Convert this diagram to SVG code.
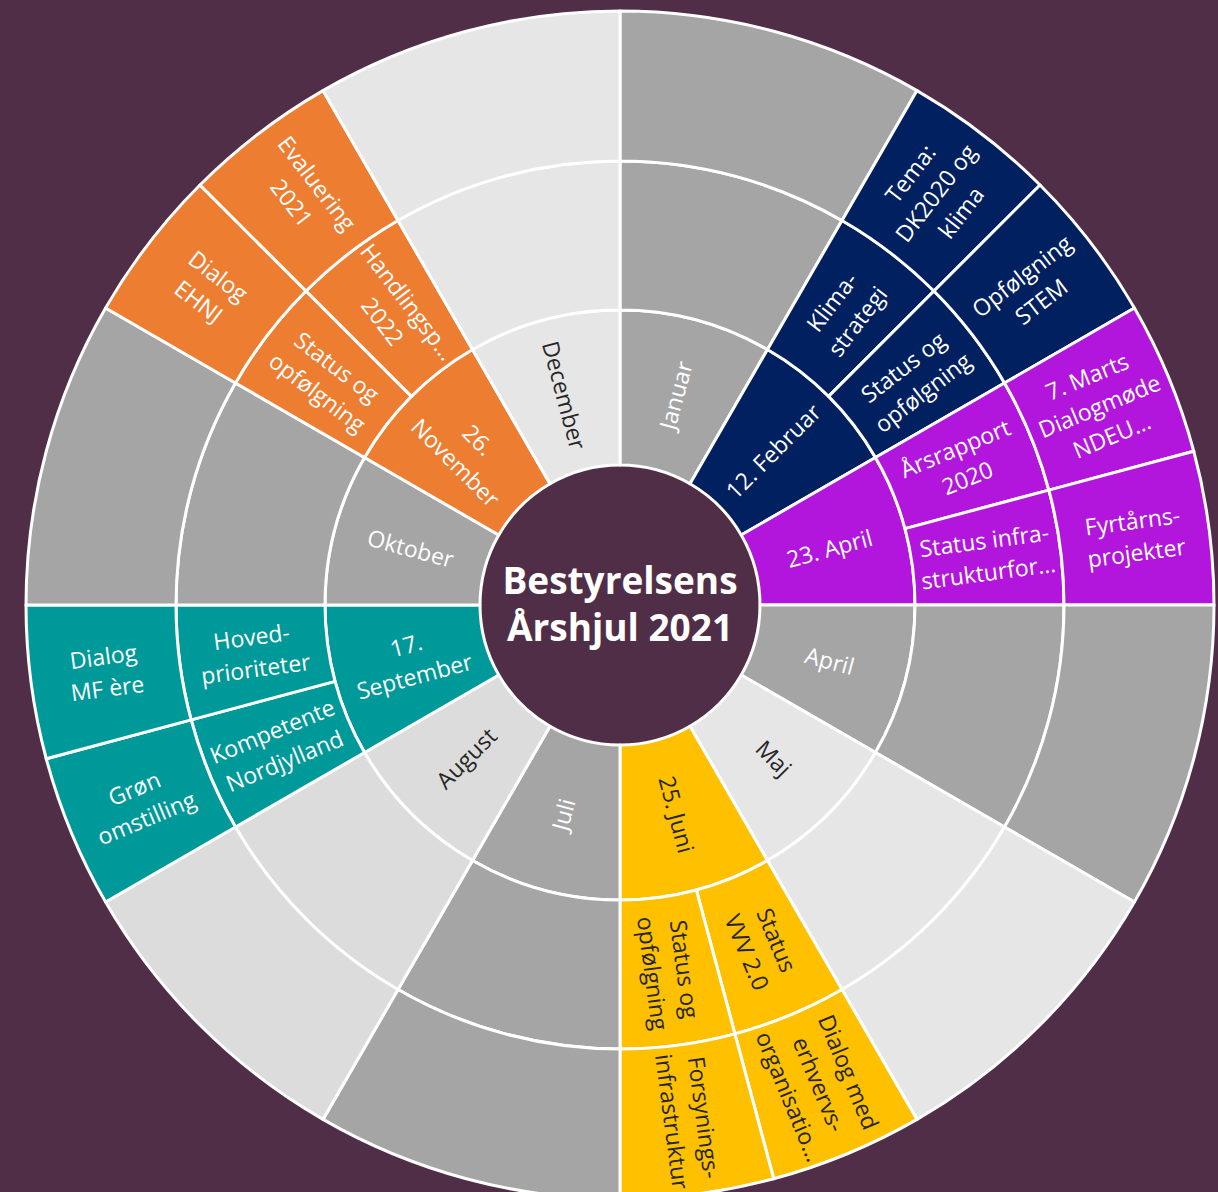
<svg xmlns="http://www.w3.org/2000/svg" xmlns:xlink="http://www.w3.org/1999/xlink" width="1218" height="1192" viewBox="0 0 1218 1192">
<style>
.seg{stroke:#FFFFFF;stroke-width:3;stroke-linejoin:round}
.gray{fill:#A5A5A5}
.light{fill:#E7E6E6}
.light2{fill:#DCDCDC}
.navy{fill:#002060}
.purple{fill:#B216DC}
.orange{fill:#ED7D31}
.teal{fill:#009999}
.yellow{fill:#FFC000}
text{font-family:"Open Sans","Noto Sans","Liberation Sans",sans-serif;font-size:23px;text-anchor:middle}
.w{fill:#FFFFFF}
.d{fill:#262626}
.title{font-weight:bold;font-size:37px;fill:#FFFFFF}
</style>
<defs>
<path id="r1w" d="M0,-140 L0,-295 A295,295 0 0 1 147.5,-255.478 L70,-121.244 A140,140 0 0 0 0,-140 Z"/>
<path id="r2w" d="M0,-295 L0,-444 A444,444 0 0 1 222,-384.515 L147.5,-255.478 A295,295 0 0 0 0,-295 Z"/>
<path id="r3w" d="M0,-444 L0,-594 A594,594 0 0 1 297,-514.419 L222,-384.515 A444,444 0 0 0 0,-444 Z"/>
<path id="r2h" d="M0,-295 L0,-444 A444,444 0 0 1 114.916,-428.871 L76.352,-284.948 A295,295 0 0 0 0,-295 Z"/>
<path id="r3h" d="M0,-444 L0,-594 A594,594 0 0 1 153.738,-573.760 L114.916,-428.871 A444,444 0 0 0 0,-444 Z"/>
</defs>
<rect x="0" y="0" width="1218" height="1192" fill="#512E47"/>
<circle id="center" cx="620" cy="605" r="140" fill="#512E47"/>

<g id="januar">
<use xlink:href="#r1w" class="seg gray" transform="translate(620 605) rotate(0)"/>
<use xlink:href="#r2w" class="seg gray" transform="translate(620 605) rotate(0)"/>
<use xlink:href="#r3w" class="seg gray" transform="translate(620 605) rotate(0)"/>
<text class="w" transform="rotate(15 620 605) translate(620 388) rotate(-90)"><tspan x="0" y="8">Januar</tspan></text>
</g>

<g id="februar">
<use xlink:href="#r1w" class="seg navy" transform="translate(620 605) rotate(30)"/>
<use xlink:href="#r2h" class="seg navy" transform="translate(620 605) rotate(30)"/>
<use xlink:href="#r2h" class="seg navy" transform="translate(620 605) rotate(45)"/>
<use xlink:href="#r3h" class="seg navy" transform="translate(620 605) rotate(30)"/>
<use xlink:href="#r3h" class="seg navy" transform="translate(620 605) rotate(45)"/>
<text class="w" transform="rotate(45 620 605) translate(620 388) rotate(-90)"><tspan x="0" y="8">12. Februar</tspan></text>
<text class="w" transform="rotate(37.5 620 605) translate(620 235.5) rotate(-90)"><tspan x="0" y="-8">Klima-</tspan><tspan x="0" y="24">strategi</tspan></text>
<text class="w" transform="rotate(52.5 620 605) translate(620 235.5) rotate(-90)"><tspan x="0" y="-8">Status og</tspan><tspan x="0" y="24">opfølgning</tspan></text>
<text class="w" transform="rotate(37.5 620 605) translate(620 86) rotate(-90)"><tspan x="0" y="-24">Tema:</tspan><tspan x="0" y="8">DK2020 og</tspan><tspan x="0" y="40">klima</tspan></text>
<text class="w" transform="rotate(52.5 620 605) translate(620 86) rotate(-90)"><tspan x="0" y="-8">Opfølgning</tspan><tspan x="0" y="24">STEM</tspan></text>
</g>

<g id="april23">
<use xlink:href="#r1w" class="seg purple" transform="translate(620 605) rotate(60)"/>
<use xlink:href="#r2h" class="seg purple" transform="translate(620 605) rotate(60)"/>
<use xlink:href="#r2h" class="seg purple" transform="translate(620 605) rotate(75)"/>
<use xlink:href="#r3h" class="seg purple" transform="translate(620 605) rotate(60)"/>
<use xlink:href="#r3h" class="seg purple" transform="translate(620 605) rotate(75)"/>
<text class="w" transform="rotate(75 620 605) translate(620 388) rotate(-90)"><tspan x="0" y="8">23. April</tspan></text>
<text class="w" transform="rotate(67.5 620 605) translate(620 235.5) rotate(-90)"><tspan x="0" y="-8">Årsrapport</tspan><tspan x="0" y="24">2020</tspan></text>
<text class="w" transform="rotate(82.5 620 605) translate(620 235.5) rotate(-90)"><tspan x="0" y="-8">Status infra-</tspan><tspan x="0" y="24">strukturfor…</tspan></text>
<text class="w" transform="rotate(67.5 620 605) translate(620 86) rotate(-90)"><tspan x="0" y="-24">7. Marts</tspan><tspan x="0" y="8">Dialogmøde</tspan><tspan x="0" y="40">NDEU…</tspan></text>
<text class="w" transform="rotate(82.5 620 605) translate(620 86) rotate(-90)"><tspan x="0" y="-8">Fyrtårns-</tspan><tspan x="0" y="24">projekter</tspan></text>
</g>

<g id="april">
<use xlink:href="#r1w" class="seg gray" transform="translate(620 605) rotate(90)"/>
<use xlink:href="#r2w" class="seg gray" transform="translate(620 605) rotate(90)"/>
<use xlink:href="#r3w" class="seg gray" transform="translate(620 605) rotate(90)"/>
<text class="w" transform="rotate(105 620 605) translate(620 388) rotate(-90)"><tspan x="0" y="8">April</tspan></text>
</g>

<g id="maj">
<use xlink:href="#r1w" class="seg light" transform="translate(620 605) rotate(120)"/>
<use xlink:href="#r2w" class="seg light" transform="translate(620 605) rotate(120)"/>
<use xlink:href="#r3w" class="seg light" transform="translate(620 605) rotate(120)"/>
<text class="d" transform="rotate(135 620 605) translate(620 388) rotate(-90)"><tspan x="0" y="8">Maj</tspan></text>
</g>

<g id="juni">
<use xlink:href="#r1w" class="seg yellow" transform="translate(620 605) rotate(150)"/>
<use xlink:href="#r2h" class="seg yellow" transform="translate(620 605) rotate(150)"/>
<use xlink:href="#r2h" class="seg yellow" transform="translate(620 605) rotate(165)"/>
<use xlink:href="#r3h" class="seg yellow" transform="translate(620 605) rotate(150)"/>
<use xlink:href="#r3h" class="seg yellow" transform="translate(620 605) rotate(165)"/>
<text class="d" transform="rotate(165 620 605) translate(620 388) rotate(-90)"><tspan x="0" y="8">25. Juni</tspan></text>
<text class="d" transform="rotate(157.5 620 605) translate(620 235.5) rotate(-90)"><tspan x="0" y="-8">Status</tspan><tspan x="0" y="24">VVV 2.0</tspan></text>
<text class="d" transform="rotate(172.5 620 605) translate(620 235.5) rotate(-90)"><tspan x="0" y="-8">Status og</tspan><tspan x="0" y="24">opfølgning</tspan></text>
<text class="d" transform="rotate(157.5 620 605) translate(620 86) rotate(-90)"><tspan x="0" y="-24">Dialog med</tspan><tspan x="0" y="8">erhvervs-</tspan><tspan x="0" y="40">organisatio…</tspan></text>
<text class="d" transform="rotate(172.5 620 605) translate(620 86) rotate(-90)"><tspan x="0" y="-8">Forsynings-</tspan><tspan x="0" y="24">infrastruktur</tspan></text>
</g>

<g id="juli">
<use xlink:href="#r1w" class="seg gray" transform="translate(620 605) rotate(180)"/>
<use xlink:href="#r2w" class="seg gray" transform="translate(620 605) rotate(180)"/>
<use xlink:href="#r3w" class="seg gray" transform="translate(620 605) rotate(180)"/>
<text class="w" transform="rotate(195 620 605) translate(620 388) rotate(90)"><tspan x="0" y="8">Juli</tspan></text>
</g>

<g id="august">
<use xlink:href="#r1w" class="seg light2" transform="translate(620 605) rotate(210)"/>
<use xlink:href="#r2w" class="seg light2" transform="translate(620 605) rotate(210)"/>
<use xlink:href="#r3w" class="seg light2" transform="translate(620 605) rotate(210)"/>
<text class="d" transform="rotate(225 620 605) translate(620 388) rotate(90)"><tspan x="0" y="8">August</tspan></text>
</g>

<g id="september">
<use xlink:href="#r1w" class="seg teal" transform="translate(620 605) rotate(240)"/>
<use xlink:href="#r2h" class="seg teal" transform="translate(620 605) rotate(240)"/>
<use xlink:href="#r2h" class="seg teal" transform="translate(620 605) rotate(255)"/>
<use xlink:href="#r3h" class="seg teal" transform="translate(620 605) rotate(240)"/>
<use xlink:href="#r3h" class="seg teal" transform="translate(620 605) rotate(255)"/>
<text class="w" transform="rotate(255 620 605) translate(620 388) rotate(90)"><tspan x="0" y="-8">17.</tspan><tspan x="0" y="24">September</tspan></text>
<text class="w" transform="rotate(247.5 620 605) translate(620 235.5) rotate(90)"><tspan x="0" y="-8">Kompetente</tspan><tspan x="0" y="24">Nordjylland</tspan></text>
<text class="w" transform="rotate(262.5 620 605) translate(620 235.5) rotate(90)"><tspan x="0" y="-8">Hoved-</tspan><tspan x="0" y="24">prioriteter</tspan></text>
<text class="w" transform="rotate(247.5 620 605) translate(620 86) rotate(90)"><tspan x="0" y="-8">Grøn</tspan><tspan x="0" y="24">omstilling</tspan></text>
<text class="w" transform="rotate(262.5 620 605) translate(620 86) rotate(90)"><tspan x="0" y="-8">Dialog</tspan><tspan x="0" y="24">MF ère</tspan></text>
</g>

<g id="oktober">
<use xlink:href="#r1w" class="seg gray" transform="translate(620 605) rotate(270)"/>
<use xlink:href="#r2w" class="seg gray" transform="translate(620 605) rotate(270)"/>
<use xlink:href="#r3w" class="seg gray" transform="translate(620 605) rotate(270)"/>
<text class="w" transform="rotate(285 620 605) translate(620 388) rotate(90)"><tspan x="0" y="8">Oktober</tspan></text>
</g>

<g id="november">
<use xlink:href="#r1w" class="seg orange" transform="translate(620 605) rotate(300)"/>
<use xlink:href="#r2h" class="seg orange" transform="translate(620 605) rotate(300)"/>
<use xlink:href="#r2h" class="seg orange" transform="translate(620 605) rotate(315)"/>
<use xlink:href="#r3h" class="seg orange" transform="translate(620 605) rotate(300)"/>
<use xlink:href="#r3h" class="seg orange" transform="translate(620 605) rotate(315)"/>
<text class="w" transform="rotate(315 620 605) translate(620 388) rotate(90)"><tspan x="0" y="-8">26.</tspan><tspan x="0" y="24">November</tspan></text>
<text class="w" transform="rotate(307.5 620 605) translate(620 235.5) rotate(90)"><tspan x="0" y="-8">Status og</tspan><tspan x="0" y="24">opfølgning</tspan></text>
<text class="w" transform="rotate(322.5 620 605) translate(620 235.5) rotate(90)"><tspan x="0" y="-8">Handlingsp…</tspan><tspan x="0" y="24">2022</tspan></text>
<text class="w" transform="rotate(307.5 620 605) translate(620 86) rotate(90)"><tspan x="0" y="-8">Dialog</tspan><tspan x="0" y="24">EHNJ</tspan></text>
<text class="w" transform="rotate(322.5 620 605) translate(620 86) rotate(90)"><tspan x="0" y="-8">Evaluering</tspan><tspan x="0" y="24">2021</tspan></text>
</g>

<g id="december">
<use xlink:href="#r1w" class="seg light" transform="translate(620 605) rotate(330)"/>
<use xlink:href="#r2w" class="seg light" transform="translate(620 605) rotate(330)"/>
<use xlink:href="#r3w" class="seg light" transform="translate(620 605) rotate(330)"/>
<text class="d" transform="rotate(345 620 605) translate(620 388) rotate(90)"><tspan x="0" y="8">December</tspan></text>
</g>

<g id="title">
<text class="title" x="620" y="594">Bestyrelsens</text>
<text class="title" x="620" y="641">Årshjul 2021</text>
</g>
<g id="connectors"/>
</svg>
